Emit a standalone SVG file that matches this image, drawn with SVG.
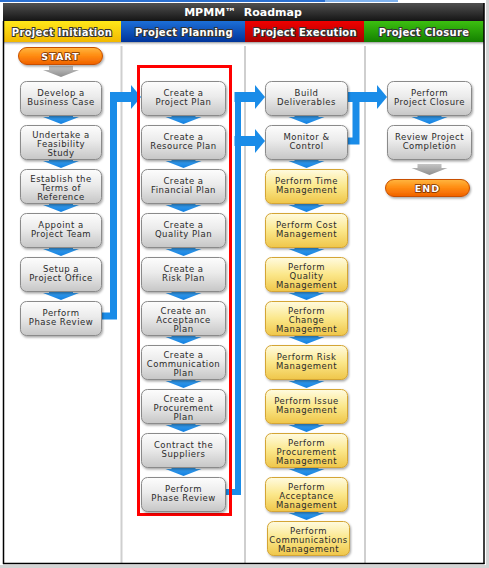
<svg xmlns="http://www.w3.org/2000/svg" width="489" height="568" viewBox="0 0 489 568">
<defs>
<linearGradient id="gDark" x1="0" y1="0" x2="0" y2="1"><stop offset="0" stop-color="#505050"/><stop offset="1" stop-color="#151515"/></linearGradient>
<linearGradient id="gYel" x1="0" y1="0" x2="0" y2="1"><stop offset="0" stop-color="#ffe81a"/><stop offset="1" stop-color="#f2b800"/></linearGradient>
<linearGradient id="gBlu" x1="0" y1="0" x2="0" y2="1"><stop offset="0" stop-color="#1c6fd8"/><stop offset="1" stop-color="#00349a"/></linearGradient>
<linearGradient id="gRed" x1="0" y1="0" x2="0" y2="1"><stop offset="0" stop-color="#f00000"/><stop offset="1" stop-color="#a80000"/></linearGradient>
<linearGradient id="gGrn" x1="0" y1="0" x2="0" y2="1"><stop offset="0" stop-color="#3cc010"/><stop offset="1" stop-color="#148000"/></linearGradient>
<linearGradient id="gShade" x1="0" y1="0" x2="0" y2="1"><stop offset="0" stop-color="#9a9a9a"/><stop offset="1" stop-color="#ffffff" stop-opacity="0"/></linearGradient>
<linearGradient id="gNode" x1="0" y1="0" x2="0" y2="1"><stop offset="0" stop-color="#fdfdfd"/><stop offset="0.45" stop-color="#ebebeb"/><stop offset="1" stop-color="#c6c6c6"/></linearGradient>
<linearGradient id="gYNode" x1="0" y1="0" x2="0" y2="1"><stop offset="0" stop-color="#fffbe0"/><stop offset="0.5" stop-color="#fbe78a"/><stop offset="1" stop-color="#efc64a"/></linearGradient>
<linearGradient id="gPill" x1="0" y1="0" x2="0" y2="1"><stop offset="0" stop-color="#ffb640"/><stop offset="0.5" stop-color="#ff8a10"/><stop offset="1" stop-color="#f06000"/></linearGradient>
<linearGradient id="gArr" x1="0" y1="0" x2="0" y2="1"><stop offset="0" stop-color="#46aaf5"/><stop offset="1" stop-color="#1380e0"/></linearGradient>
<linearGradient id="gGArr" x1="0" y1="0" x2="0" y2="1"><stop offset="0" stop-color="#c4c4c4"/><stop offset="1" stop-color="#8e8e8e"/></linearGradient>
<filter id="sh" x="-10%" y="-10%" width="125%" height="135%"><feDropShadow dx="1" dy="1.5" stdDeviation="1" flood-color="#000" flood-opacity="0.35"/></filter>
<path id="da" d="M-12,-3 H12 V1 H18 L0,8 L-18,1 H-12 Z"/>
<marker id="ah" markerUnits="userSpaceOnUse" markerWidth="10" markerHeight="24" viewBox="0 0 10 24" refX="1" refY="12" orient="auto"><path d="M0,0 L10,12 L0,24 Z" fill="#1a8ce8"/></marker>
<style>
.n{fill:url(#gNode);stroke:#8a8a8a;stroke-width:1;filter:url(#sh)}
.y{fill:url(#gYNode);stroke:#d4a535;stroke-width:1;filter:url(#sh)}
.p{fill:url(#gPill);stroke:#c85000;stroke-width:1;filter:url(#sh)}
.t{font-family:"DejaVu Sans",Verdana,sans-serif;font-size:8.5px;letter-spacing:0.5px;fill:#2b2b2b;text-anchor:middle}
.pt{font-family:"DejaVu Sans",Verdana,sans-serif;font-size:9.5px;font-weight:bold;letter-spacing:1px;fill:#fff;stroke:#7a3000;stroke-width:1.6px;paint-order:stroke;text-anchor:middle}
.ph{font-family:"DejaVu Sans",Verdana,sans-serif;font-size:10px;font-weight:bold;letter-spacing:0.3px;fill:#fff;stroke:#333;stroke-width:2px;paint-order:stroke;text-anchor:middle}
.ti{font-family:"DejaVu Sans",Verdana,sans-serif;font-size:11px;font-weight:bold;fill:#fff;text-anchor:middle;white-space:pre}
.sep{stroke:#cfcfcf;stroke-width:2}
.ba{fill:url(#gArr)}
.ga{fill:url(#gGArr)}
.c{fill:none;stroke:#1a8ce8;stroke-linejoin:miter}
</style>
</defs>
<!-- frame -->
<rect x="0" y="0" width="489" height="568" fill="#ffffff"/>
<rect x="486" y="0" width="3" height="568" fill="#d4d4d4"/>
<rect x="0" y="565" width="489" height="3" fill="#d4d4d4"/>
<rect x="0" y="0" width="325" height="2" fill="#2a6fd0"/>
<rect x="325" y="0" width="73" height="2" fill="#7fb2ee"/>
<!-- header -->
<g id="header">
<rect x="3" y="3" width="481" height="18" fill="url(#gDark)"/>
<text class="ti" x="243" y="16">MPMM™  Roadmap</text>
</g>
<g id="phases">
<rect x="3" y="21" width="118" height="21" fill="url(#gYel)"/>
<rect x="121" y="21" width="124" height="21" fill="url(#gBlu)"/>
<rect x="245" y="21" width="119" height="21" fill="url(#gRed)"/>
<rect x="364" y="21" width="120" height="21" fill="url(#gGrn)"/>
<rect x="3" y="42" width="481" height="4" fill="url(#gShade)"/>
<text class="ph" x="62" y="35.5">Project Initiation</text>
<text class="ph" x="184" y="35.5">Project Planning</text>
<text class="ph" x="305" y="35.5">Project Execution</text>
<text class="ph" x="424" y="35.5">Project Closure</text>
</g>
<g id="grid">
<line class="sep" x1="121.5" y1="46" x2="121.5" y2="563"/>
<line class="sep" x1="245" y1="46" x2="245" y2="563"/>
<line class="sep" x1="365" y1="46" x2="365" y2="563"/>
<line x1="3.5" y1="21" x2="3.5" y2="564" stroke="#000" stroke-width="1.5"/>
<line x1="484" y1="3" x2="484" y2="564" stroke="#000" stroke-width="1.5"/>
<line x1="3" y1="563.5" x2="484.5" y2="563.5" stroke="#000" stroke-width="1.5"/>
</g>
<!-- connectors -->
<g id="connectors">
<use href="#da" class="ga" x="61" y="69"/>
<use href="#da" class="ba" x="61" y="116"/>
<use href="#da" class="ba" x="61" y="160"/>
<use href="#da" class="ba" x="61" y="204"/>
<use href="#da" class="ba" x="61" y="248"/>
<use href="#da" class="ba" x="61" y="292"/>
<use href="#da" class="ba" x="183.5" y="116"/>
<use href="#da" class="ba" x="183.5" y="160"/>
<use href="#da" class="ba" x="183.5" y="204"/>
<use href="#da" class="ba" x="183.5" y="248"/>
<use href="#da" class="ba" x="183.5" y="292"/>
<use href="#da" class="ba" x="183.5" y="336"/>
<use href="#da" class="ba" x="183.5" y="380"/>
<use href="#da" class="ba" x="183.5" y="424"/>
<use href="#da" class="ba" x="183.5" y="468"/>
<use href="#da" class="ba" x="306.5" y="116"/>
<use href="#da" class="ba" x="306.5" y="160"/>
<use href="#da" class="ba" x="306.5" y="204"/>
<use href="#da" class="ba" x="306.5" y="248"/>
<use href="#da" class="ba" x="306.5" y="292"/>
<use href="#da" class="ba" x="306.5" y="336"/>
<use href="#da" class="ba" x="306.5" y="380"/>
<use href="#da" class="ba" x="306.5" y="424"/>
<use href="#da" class="ba" x="306.5" y="468"/>
<use href="#da" class="ba" x="306.5" y="512"/>
<use href="#da" class="ba" x="429.5" y="116"/>
<use href="#da" class="ga" x="429.5" y="167"/>
<!-- initiation to planning -->
<path class="c" stroke-width="7" d="M101,316 H113.5 V92"/>
<path class="c" stroke-width="10" d="M110,97 H132" marker-end="url(#ah)"/>
<!-- planning to execution -->
<path class="c" stroke-width="6" d="M225,492 H238 V92"/>
<path class="c" stroke-width="10" d="M234.5,97 H256" marker-end="url(#ah)"/>
<path class="c" stroke-width="10" d="M234.5,141 H256" marker-end="url(#ah)"/>
<!-- execution to closure -->
<path class="c" stroke-width="7" d="M347,141 H356 V92"/>
<path class="c" stroke-width="10" d="M347,97 H378" marker-end="url(#ah)"/>
</g>
<!-- focus box -->
<rect x="138.5" y="66.5" width="92" height="448" fill="none" stroke="#ff0000" stroke-width="3"/>
<!-- initiation nodes -->
<g id="start"><rect class="p" x="18.5" y="47.5" width="84" height="17" rx="8.5"/><text class="pt" x="60.5" y="59.5">START</text></g>
<g id="develop-business-case"><rect class="n" x="20.5" y="81.5" width="81" height="34" rx="6"/><text class="t" y="95.5"><tspan x="61">Develop a</tspan><tspan x="61" dy="9">Business Case</tspan></text></g>
<g id="feasibility-study"><rect class="n" x="20.5" y="125.5" width="81" height="34" rx="6"/><text class="t" y="137.5"><tspan x="61">Undertake a</tspan><tspan x="61" dy="9">Feasibility</tspan><tspan x="61" dy="9">Study</tspan></text></g>
<g id="terms-of-reference"><rect class="n" x="20.5" y="169.5" width="81" height="34" rx="6"/><text class="t" y="181.5"><tspan x="61">Establish the</tspan><tspan x="61" dy="9">Terms of</tspan><tspan x="61" dy="9">Reference</tspan></text></g>
<g id="project-team"><rect class="n" x="20.5" y="213.5" width="81" height="34" rx="6"/><text class="t" y="227.5"><tspan x="61">Appoint a</tspan><tspan x="61" dy="9">Project Team</tspan></text></g>
<g id="project-office"><rect class="n" x="20.5" y="257.5" width="81" height="34" rx="6"/><text class="t" y="271.5"><tspan x="61">Setup a</tspan><tspan x="61" dy="9">Project Office</tspan></text></g>
<g id="initiation-phase-review"><rect class="n" x="20.5" y="301.5" width="81" height="34" rx="6"/><text class="t" y="315.5"><tspan x="61">Perform</tspan><tspan x="61" dy="9">Phase Review</tspan></text></g>
<!-- planning nodes -->
<g id="project-plan"><rect class="n" x="141.5" y="81.5" width="84" height="34" rx="6"/><text class="t" y="95.5"><tspan x="183.5">Create a</tspan><tspan x="183.5" dy="9">Project Plan</tspan></text></g>
<g id="resource-plan"><rect class="n" x="141.5" y="125.5" width="84" height="34" rx="6"/><text class="t" y="139.5"><tspan x="183.5">Create a</tspan><tspan x="183.5" dy="9">Resource Plan</tspan></text></g>
<g id="financial-plan"><rect class="n" x="141.5" y="169.5" width="84" height="34" rx="6"/><text class="t" y="183.5"><tspan x="183.5">Create a</tspan><tspan x="183.5" dy="9">Financial Plan</tspan></text></g>
<g id="quality-plan"><rect class="n" x="141.5" y="213.5" width="84" height="34" rx="6"/><text class="t" y="227.5"><tspan x="183.5">Create a</tspan><tspan x="183.5" dy="9">Quality Plan</tspan></text></g>
<g id="risk-plan"><rect class="n" x="141.5" y="257.5" width="84" height="34" rx="6"/><text class="t" y="271.5"><tspan x="183.5">Create a</tspan><tspan x="183.5" dy="9">Risk Plan</tspan></text></g>
<g id="acceptance-plan"><rect class="n" x="141.5" y="301.5" width="84" height="34" rx="6"/><text class="t" y="313.5"><tspan x="183.5">Create an</tspan><tspan x="183.5" dy="9">Acceptance</tspan><tspan x="183.5" dy="9">Plan</tspan></text></g>
<g id="communication-plan"><rect class="n" x="141.5" y="345.5" width="84" height="34" rx="6"/><text class="t" y="357.5"><tspan x="183.5">Create a</tspan><tspan x="183.5" dy="9">Communication</tspan><tspan x="183.5" dy="9">Plan</tspan></text></g>
<g id="procurement-plan"><rect class="n" x="141.5" y="389.5" width="84" height="34" rx="6"/><text class="t" y="401.5"><tspan x="183.5">Create a</tspan><tspan x="183.5" dy="9">Procurement</tspan><tspan x="183.5" dy="9">Plan</tspan></text></g>
<g id="contract-suppliers"><rect class="n" x="141.5" y="433.5" width="84" height="34" rx="6"/><text class="t" y="447.5"><tspan x="183.5">Contract the</tspan><tspan x="183.5" dy="9">Suppliers</tspan></text></g>
<g id="planning-phase-review"><rect class="n" x="141.5" y="477.5" width="84" height="34" rx="6"/><text class="t" y="491.5"><tspan x="183.5">Perform</tspan><tspan x="183.5" dy="9">Phase Review</tspan></text></g>
<!-- execution nodes -->
<g id="build-deliverables"><rect class="n" x="265.5" y="81.5" width="82" height="34" rx="6"/><text class="t" y="95.5"><tspan x="306.5">Build</tspan><tspan x="306.5" dy="9">Deliverables</tspan></text></g>
<g id="monitor-control"><rect class="n" x="265.5" y="125.5" width="82" height="34" rx="6"/><text class="t" y="139.5"><tspan x="306.5">Monitor &amp;</tspan><tspan x="306.5" dy="9">Control</tspan></text></g>
<g id="time-management"><rect class="y" x="265.5" y="169.5" width="82" height="34" rx="6"/><text class="t" y="183.5"><tspan x="306.5">Perform Time</tspan><tspan x="306.5" dy="9">Management</tspan></text></g>
<g id="cost-management"><rect class="y" x="265.5" y="213.5" width="82" height="34" rx="6"/><text class="t" y="227.5"><tspan x="306.5">Perform Cost</tspan><tspan x="306.5" dy="9">Management</tspan></text></g>
<g id="quality-management"><rect class="y" x="265.5" y="257.5" width="82" height="34" rx="6"/><text class="t" y="269.5"><tspan x="306.5">Perform</tspan><tspan x="306.5" dy="9">Quality</tspan><tspan x="306.5" dy="9">Management</tspan></text></g>
<g id="change-management"><rect class="y" x="265.5" y="301.5" width="82" height="34" rx="6"/><text class="t" y="313.5"><tspan x="306.5">Perform</tspan><tspan x="306.5" dy="9">Change</tspan><tspan x="306.5" dy="9">Management</tspan></text></g>
<g id="risk-management"><rect class="y" x="265.5" y="345.5" width="82" height="34" rx="6"/><text class="t" y="359.5"><tspan x="306.5">Perform Risk</tspan><tspan x="306.5" dy="9">Management</tspan></text></g>
<g id="issue-management"><rect class="y" x="265.5" y="389.5" width="82" height="34" rx="6"/><text class="t" y="403.5"><tspan x="306.5">Perform Issue</tspan><tspan x="306.5" dy="9">Management</tspan></text></g>
<g id="procurement-management"><rect class="y" x="265.5" y="433.5" width="82" height="34" rx="6"/><text class="t" y="445.5"><tspan x="306.5">Perform</tspan><tspan x="306.5" dy="9">Procurement</tspan><tspan x="306.5" dy="9">Management</tspan></text></g>
<g id="acceptance-management"><rect class="y" x="265.5" y="477.5" width="82" height="34" rx="6"/><text class="t" y="489.5"><tspan x="306.5">Perform</tspan><tspan x="306.5" dy="9">Acceptance</tspan><tspan x="306.5" dy="9">Management</tspan></text></g>
<g id="communications-management"><rect class="y" x="267.5" y="521.5" width="82" height="34" rx="6"/><text class="t" y="533.5"><tspan x="308.5">Perform</tspan><tspan x="308.5" dy="9">Communications</tspan><tspan x="308.5" dy="9">Management</tspan></text></g>
<!-- closure nodes -->
<g id="project-closure"><rect class="n" x="387.5" y="81.5" width="84" height="34" rx="6"/><text class="t" y="95.5"><tspan x="429.5">Perform</tspan><tspan x="429.5" dy="9">Project Closure</tspan></text></g>
<g id="review-completion"><rect class="n" x="387.5" y="125.5" width="84" height="34" rx="6"/><text class="t" y="139.5"><tspan x="429.5">Review Project</tspan><tspan x="429.5" dy="9">Completion</tspan></text></g>
<g id="end"><rect class="p" x="385.5" y="179.5" width="84" height="17" rx="8.5"/><text class="pt" x="427.5" y="191.5">END</text></g>
</svg>
